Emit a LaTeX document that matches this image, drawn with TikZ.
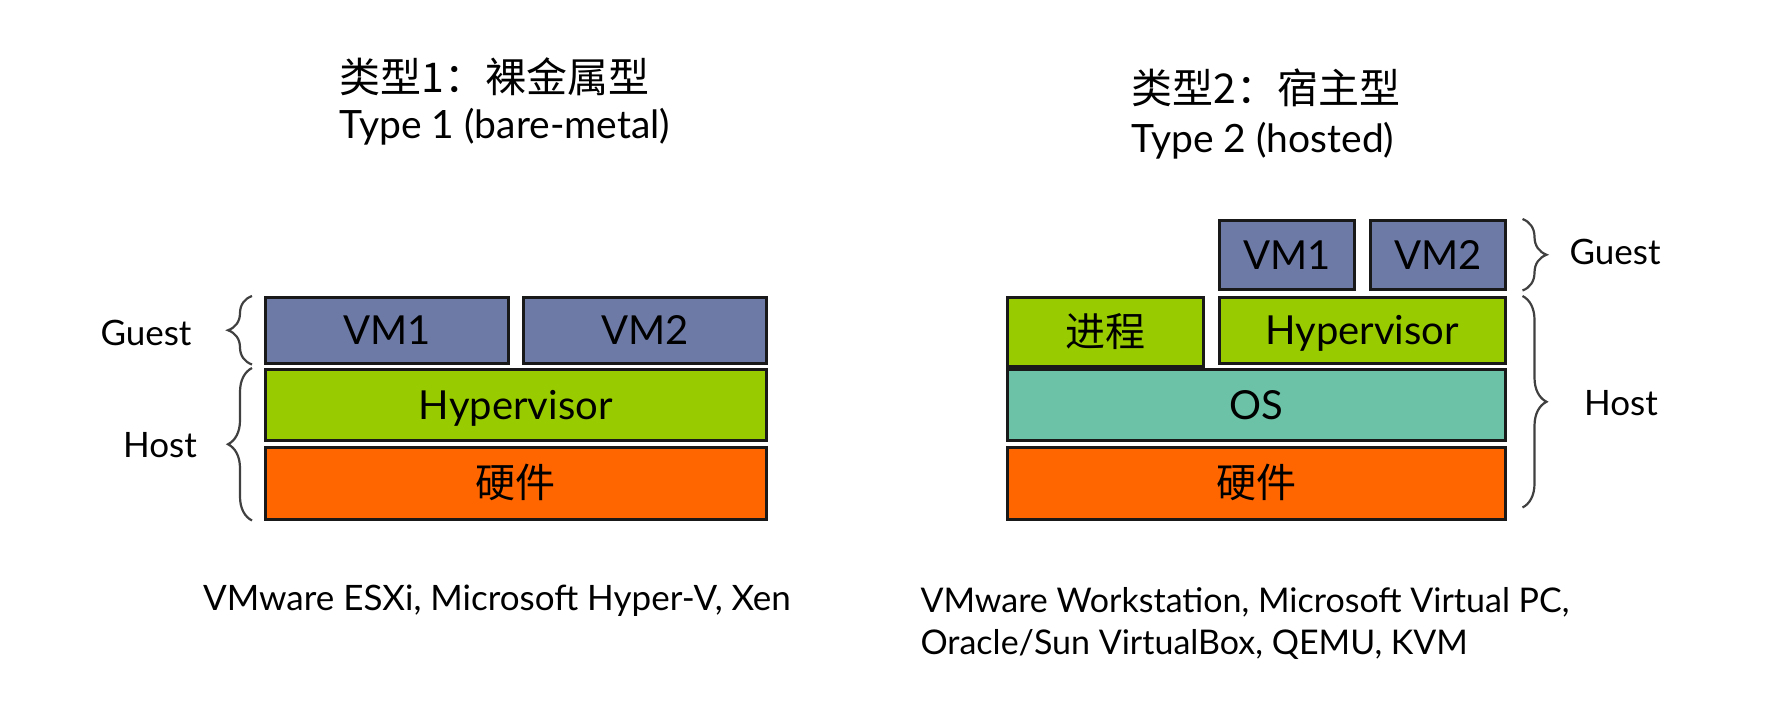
\documentclass[tikz,border=0pt]{standalone}
\usepackage{fontspec}
\setmainfont{Lato}
\newfontfamily\cjk{Noto Sans CJK SC}
\usetikzlibrary{decorations.pathreplacing}

\definecolor{vmblue}{HTML}{6E7AA6}
\definecolor{hypgreen}{HTML}{99CC00}
\definecolor{hwred}{HTML}{FF6600}
\definecolor{osteal}{HTML}{6CC2A6}

\tikzset{
  layer/.style={draw=black!90, line width=2.5pt, inner sep=0pt, anchor=north west,
    text height=29pt, text depth=0pt, font=\fontsize{40}{46}\selectfont},
  bracel/.style={decorate, decoration={brace, amplitude=24pt}, line width=2.2pt, draw=black!75},
  lbl/.style={font=\fontsize{35}{42}\selectfont},
  ttl/.style={font=\fontsize{39}{48}\selectfont, anchor=west},
}

\begin{document}
\begin{tikzpicture}[x=1pt,y=-1pt]
\useasboundingbox (0,0) rectangle (1787,705);
% 类型1
\node[ttl] (t1a) at (336,77) {\cjk\fontsize{41}{48}\selectfont 类型1：裸金属型};
\node[ttl] (t1b) at (336,127) {Type 1 (bare-metal)};
\node[layer, fill=vmblue, minimum width=243pt, minimum height=66pt] (vma) at (264,296) {VM1};
\node[layer, fill=vmblue, minimum width=243pt, minimum height=66pt] (vmb) at (522,296) {VM2};
\node[layer, fill=hypgreen, minimum width=501pt, minimum height=71pt] (hypa) at (264,368) {Hypervisor};
\node[layer, fill=hwred, minimum width=501pt, minimum height=72pt] (hwa) at (264,446) {\cjk 硬件};
\draw[bracel] ([xshift=-12pt]vma.south west) -- ([xshift=-12pt]vma.north west);
\draw[bracel] ([xshift=-12pt]hwa.south west) -- ([xshift=-12pt]hypa.north west);
\node[lbl] (ga) at (146,333) {Guest};
\node[lbl] (ha) at (160,445) {Host};
\node[lbl] (exa) at (497,601) {VMware ESXi, Microsoft Hyper-V, Xen};

% 类型2
\node[ttl] (t2a) at (1128,88) {\cjk\fontsize{41}{48}\selectfont 类型2：宿主型};
\node[ttl] (t2b) at (1128,141) {Type 2 (hosted)};
\node[layer, fill=vmblue, minimum width=135pt, minimum height=69pt] (vmc) at (1218,219) {VM1};
\node[layer, fill=vmblue, minimum width=135pt, minimum height=69pt] (vmd) at (1369,219) {VM2};
\node[layer, fill=hypgreen, minimum width=196pt, minimum height=69pt] (proc) at (1006,296) {\cjk 进程};
\node[layer, fill=hypgreen, minimum width=286pt, minimum height=66pt] (hypb) at (1218,296) {Hypervisor};
\node[layer, fill=osteal, minimum width=498pt, minimum height=71pt] (os) at (1006,368) {OS};
\node[layer, fill=hwred, minimum width=498pt, minimum height=72pt] (hwb) at (1006,446) {\cjk 硬件};
\draw[bracel] ([xshift=16pt]vmd.north east) -- ([xshift=16pt]vmd.south east);
\draw[bracel] ([xshift=16pt]hypb.north east) -- ([xshift=16pt,yshift=13pt]hwb.south east);
\node[lbl] (gb) at (1615,252) {Guest};
\node[lbl] (hb) at (1621,403) {Host};
\node[lbl, anchor=west, align=left, font=\fontsize{34}{42}\selectfont] (exb) at (917,623)
  {VMware Workstation, Microsoft Virtual PC,\\Oracle/Sun VirtualBox, QEMU, KVM};
\end{tikzpicture}
\end{document}
